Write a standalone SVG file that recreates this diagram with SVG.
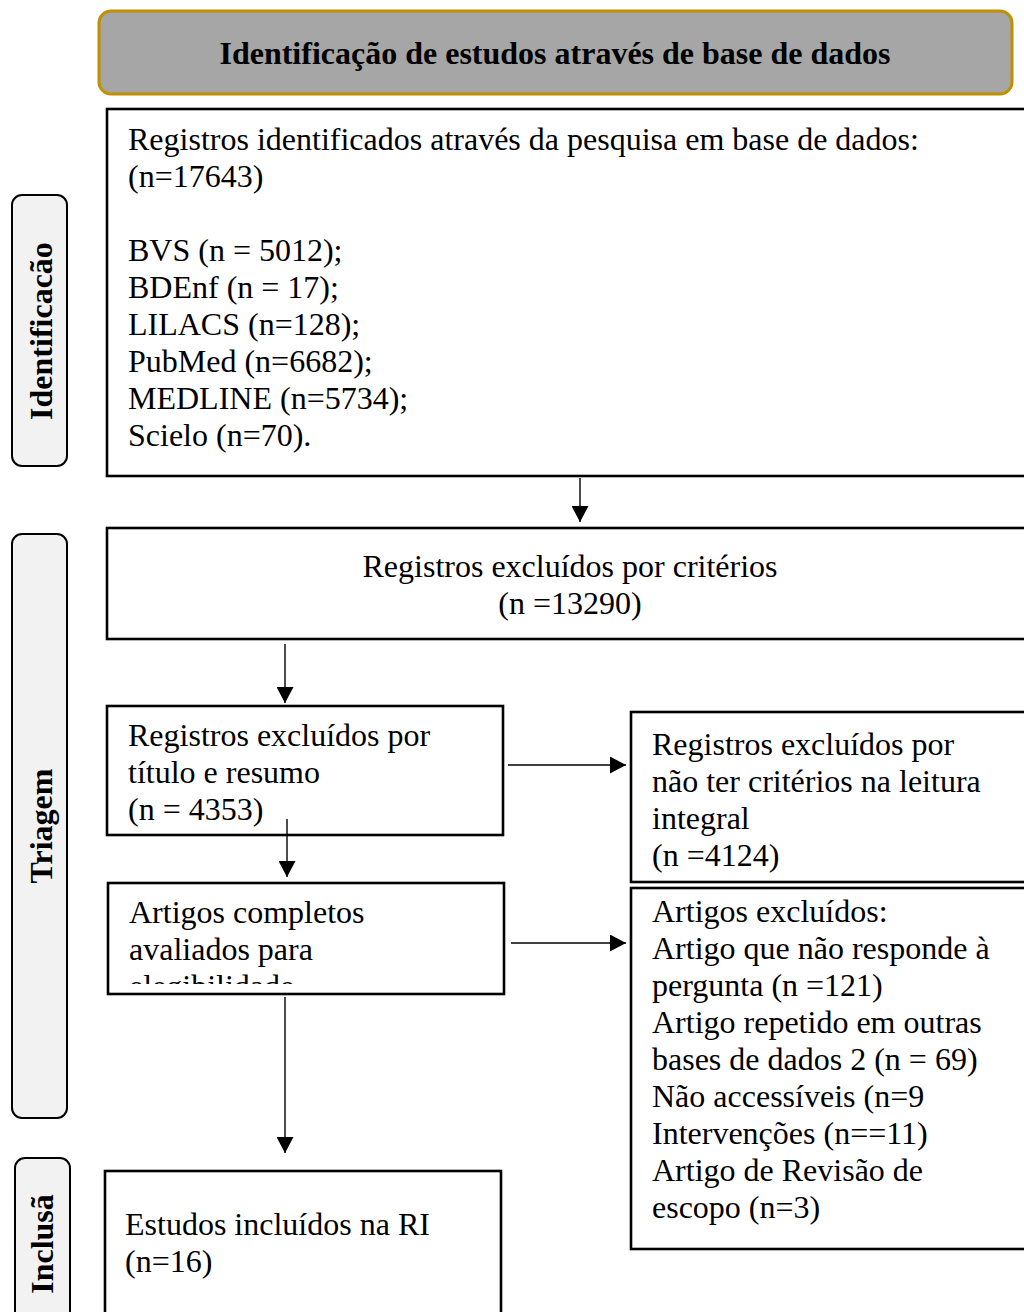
<svg xmlns="http://www.w3.org/2000/svg" width="1024" height="1312" viewBox="0 0 1024 1312">
<style>
.box{fill:#fff;stroke:#000;stroke-width:2.6}
.lab{fill:#f2f2f2;stroke:#000;stroke-width:2}
.t{font-family:"Liberation Serif","Times New Roman",serif;font-size:32px;fill:#000}
.b{font-family:"Liberation Serif","Times New Roman",serif;font-size:32px;font-weight:bold;fill:#000}
.c{stroke:#000;stroke-width:1.4;fill:none;marker-end:url(#ah)}
</style>
<defs>
<marker id="ah" markerUnits="userSpaceOnUse" markerWidth="16" markerHeight="17" refX="16" refY="8.5" orient="auto">
<path d="M0,0 L16,8.5 L0,17 z" fill="#000"/>
</marker>
<clipPath id="clip4"><rect x="108" y="884" width="396" height="100"/></clipPath>
</defs>
<g id="header">
<rect x="99" y="11" width="913" height="83" rx="12" fill="#a6a6a6" stroke="#bf9000" stroke-width="3"/>
<text class="b" x="555" y="64" text-anchor="middle">Identificação de estudos através de base de dados</text>
</g>
<g id="lab-identificacao">
<rect class="lab" x="12" y="195" width="55" height="271" rx="10"/>
<text class="b" transform="translate(52,331) rotate(-90)" text-anchor="middle">Identificacão</text>
</g>
<g id="lab-triagem">
<rect class="lab" x="12" y="534" width="55" height="584" rx="10"/>
<text class="b" transform="translate(52,826) rotate(-90)" text-anchor="middle">Triagem</text>
</g>
<g id="lab-inclusao">
<rect class="lab" x="15" y="1158" width="55" height="200" rx="10"/>
<text class="b" transform="translate(53,1244) rotate(-90)" text-anchor="middle">Inclusã</text>
</g>
<g id="box-registros">
<rect class="box" x="107" y="109" width="940" height="367"/>
<text class="t" x="128" y="150">Registros identificados através da pesquisa em base de dados:</text>
<text class="t" x="128" y="187">(n=17643)</text>
<text class="t" x="128" y="261">BVS (n = 5012);</text>
<text class="t" x="128" y="298">BDEnf (n = 17);</text>
<text class="t" x="128" y="335">LILACS (n=128);</text>
<text class="t" x="128" y="372">PubMed (n=6682);</text>
<text class="t" x="128" y="409">MEDLINE (n=5734);</text>
<text class="t" x="128" y="446">Scielo (n=70).</text>
</g>
<g id="box-criterios">
<rect class="box" x="107" y="528" width="940" height="111"/>
<text class="t" x="570" y="577" text-anchor="middle">Registros excluídos por critérios</text>
<text class="t" x="570" y="614" text-anchor="middle">(n =13290)</text>
</g>
<g id="box-titulo">
<rect class="box" x="107" y="706" width="396" height="129"/>
<text class="t" x="128" y="746">Registros excluídos por</text>
<text class="t" x="128" y="783">título e resumo</text>
<text class="t" x="128" y="820">(n = 4353)</text>
</g>
<g id="box-artigos">
<rect class="box" x="108" y="883" width="396" height="111"/>
<g clip-path="url(#clip4)">
<text class="t" x="129" y="923">Artigos completos</text>
<text class="t" x="129" y="960">avaliados para</text>
<text class="t" x="129" y="997">elegibilidade</text>
</g>
</g>
<g id="box-estudos">
<rect class="box" x="105" y="1171" width="396" height="200"/>
<text class="t" x="125" y="1235">Estudos incluídos na RI</text>
<text class="t" x="125" y="1272">(n=16)</text>
</g>
<g id="box-leitura">
<rect class="box" x="631" y="712" width="420" height="170"/>
<text class="t" x="652" y="755">Registros excluídos por</text>
<text class="t" x="652" y="792">não ter critérios na leitura</text>
<text class="t" x="652" y="829">integral</text>
<text class="t" x="652" y="866">(n =4124)</text>
</g>
<g id="box-excluidos">
<rect class="box" x="631" y="888" width="420" height="361"/>
<text class="t" x="652" y="922">Artigos excluídos:</text>
<text class="t" x="652" y="959">Artigo que não responde à</text>
<text class="t" x="652" y="996">pergunta (n =121)</text>
<text class="t" x="652" y="1033">Artigo repetido em outras</text>
<text class="t" x="652" y="1070">bases de dados 2 (n = 69)</text>
<text class="t" x="652" y="1107">Não accessíveis (n=9</text>
<text class="t" x="652" y="1144">Intervenções (n==11)</text>
<text class="t" x="652" y="1181">Artigo de Revisão de</text>
<text class="t" x="652" y="1218">escopo (n=3)</text>
</g>
<g id="connectors">
<line class="c" x1="580" y1="478" x2="580" y2="522"/>
<line class="c" x1="285" y1="644" x2="285" y2="703"/>
<line class="c" x1="508" y1="765" x2="626" y2="765"/>
<line class="c" x1="287" y1="819" x2="287" y2="877"/>
<line class="c" x1="511" y1="943" x2="626" y2="943"/>
<line class="c" x1="285" y1="997" x2="285" y2="1153"/>
</g>
</svg>
